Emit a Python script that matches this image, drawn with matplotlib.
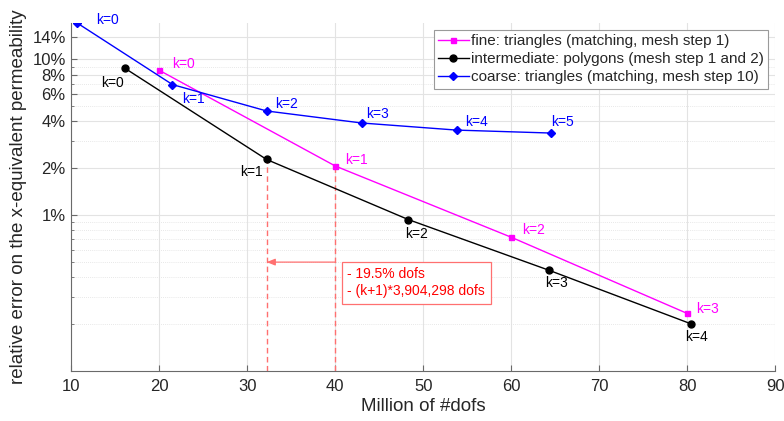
import matplotlib
matplotlib.use("Agg")
import matplotlib.pyplot as plt
from matplotlib.ticker import FixedLocator, FixedFormatter, LogLocator, NullFormatter

plt.rcParams['font.family'] = ['Liberation Sans', 'DejaVu Sans']

# ---- data (million dofs, relative error in %) ----
fine_x = [20.0, 40.0, 60.0, 80.0]
fine_y = [8.52, 2.07, 0.722, 0.234]
inter_x = [16.1, 32.2, 48.3, 64.3, 80.4]
inter_y = [8.78, 2.28, 0.938, 0.443, 0.201]
coarse_x = [10.7, 21.5, 32.2, 43.0, 53.8, 64.5]
coarse_y = [17.1, 6.9, 4.67, 3.91, 3.52, 3.37]

fine_label = "fine: triangles (matching, mesh step 1)"
inter_label = "intermediate: polygons (mesh step 1 and 2)"
coarse_label = "coarse: triangles (matching, mesh step 10)"

ytick_vals = [1, 2, 4, 6, 8, 10, 14]
ytick_labels = ["1%", "2%", "4%", "6%", "8%", "10%", "14%"]
xtick_vals = [10, 20, 30, 40, 50, 60, 70, 80, 90]

annot_text = "- 19.5% dofs\n- (k+1)*3,904,298 dofs"
arrow_level = 0.5  # % level of the arrow

# label offsets (pixels) for the k=... annotations (style only)
fine_off = [(13, 6), (10, 6), (11, 7), (9, 4)]
inter_off = [(-12, -15), (-15, -13), (8, -14), (7, -13), (6, -13)]
coarse_off = [(19, 3), (10, -14), (8, 7), (4, 9), (8, 8), (0, 11)]

MAG = '#FF00FF'
BLU = '#0000FF'
BLK = '#000000'
LRED = '#FF7070'
TXT = '#262626'

fig = plt.figure(figsize=(7.84, 4.21), dpi=100)
ax = fig.add_axes([0.0909, 0.1188, 0.898, 0.8266])

ax.plot(fine_x, fine_y, '-s', color=MAG, lw=1.0, ms=3.6, mfc=MAG, mec=MAG, label=fine_label, zorder=3)
ax.plot(inter_x, inter_y, '-o', color=BLK, lw=1.0, ms=5, mfc=BLK, mec=BLK, label=inter_label, zorder=3)
ax.plot(coarse_x, coarse_y, '-D', color=BLU, lw=1.0, ms=4.2, mfc=BLU, mec=BLU, label=coarse_label, zorder=3)

ax.set_yscale('log')
ax.set_xlim(10, 90)
ax.set_ylim(0.1, 17.15)

ax.yaxis.set_major_locator(FixedLocator(ytick_vals))
ax.yaxis.set_major_formatter(FixedFormatter(ytick_labels))
ax.yaxis.set_minor_locator(LogLocator(base=10, subs=[2, 3, 4, 5, 6, 7, 8, 9], numticks=20))
ax.yaxis.set_minor_formatter(NullFormatter())
ax.xaxis.set_major_locator(FixedLocator(xtick_vals))

ax.grid(True, which='major', axis='both', color='#e3e3e3', lw=0.8, ls='-', zorder=0)
ax.grid(True, which='minor', axis='y', color='#e0e0e0', lw=0.6, ls=(0, (1, 1.5)), zorder=0)
ax.set_axisbelow(True)

for s in ['top', 'right']:
    ax.spines[s].set_visible(False)
for s in ['left', 'bottom']:
    ax.spines[s].set_color('#6a6a6a')
    ax.spines[s].set_linewidth(0.8)

ax.tick_params(axis='both', which='major', direction='in', length=4, width=0.8,
               color='#6a6a6a', labelcolor=TXT, labelsize=12)
ax.tick_params(axis='x', which='major', pad=6)
ax.tick_params(axis='y', which='major', pad=4)
ax.tick_params(axis='y', which='minor', direction='in', length=2, width=0.6, color='#6a6a6a')

ax.set_xlabel("Million of #dofs", fontsize=13.5, color=TXT, labelpad=3)
ax.set_ylabel("relative error on the x-equivalent permeability", fontsize=13.5, color=TXT, labelpad=4)

def klabels(xs, ys, offs, color, ha):
    for k, (x, y) in enumerate(zip(xs, ys)):
        ax.annotate(f"k={k}", (x, y), xytext=offs[k], textcoords='offset pixels',
                    ha=ha, va='center', fontsize=10, color=color, annotation_clip=False, zorder=4)

klabels(fine_x, fine_y, fine_off, MAG, 'left')
klabels(inter_x, inter_y, inter_off, BLK, 'center')
klabels(coarse_x, coarse_y, coarse_off, BLU, 'left')

# dashed guide lines
ybot = ax.get_ylim()[0]
ax.plot([inter_x[1], inter_x[1]], [ybot, inter_y[1]], color=LRED, lw=1.0, ls=(0, (4, 2.5)), zorder=2)
ax.plot([fine_x[1], fine_x[1]], [ybot, fine_y[1]], color=LRED, lw=1.0, ls=(0, (4, 2.5)), zorder=2)

# arrow
ax.annotate("", xy=(inter_x[1], arrow_level), xytext=(fine_x[1], arrow_level),
            arrowprops=dict(arrowstyle='-|>,head_length=0.5,head_width=0.2', color=LRED, lw=0.9,
                            shrinkA=0, shrinkB=0), zorder=2)

# text box
ax.annotate(annot_text, (fine_x[1], arrow_level), xytext=(12, -5), textcoords='offset pixels',
            ha='left', va='top', fontsize=10, color='#FF0000', linespacing=1.3,
            bbox=dict(boxstyle='square,pad=0.4', fc='white', ec=LRED, lw=0.9), zorder=5)

leg = ax.legend(loc='upper right', fontsize=11, frameon=True, fancybox=False,
                borderaxespad=0.45, borderpad=0.3, labelspacing=0.25,
                handlelength=2.0, handletextpad=0.15, framealpha=1)
leg.get_frame().set_edgecolor('#9a9a9a')
leg.get_frame().set_linewidth(0.8)
for t in leg.get_texts():
    t.set_color(TXT)

fig.savefig("out.png", dpi=100)
